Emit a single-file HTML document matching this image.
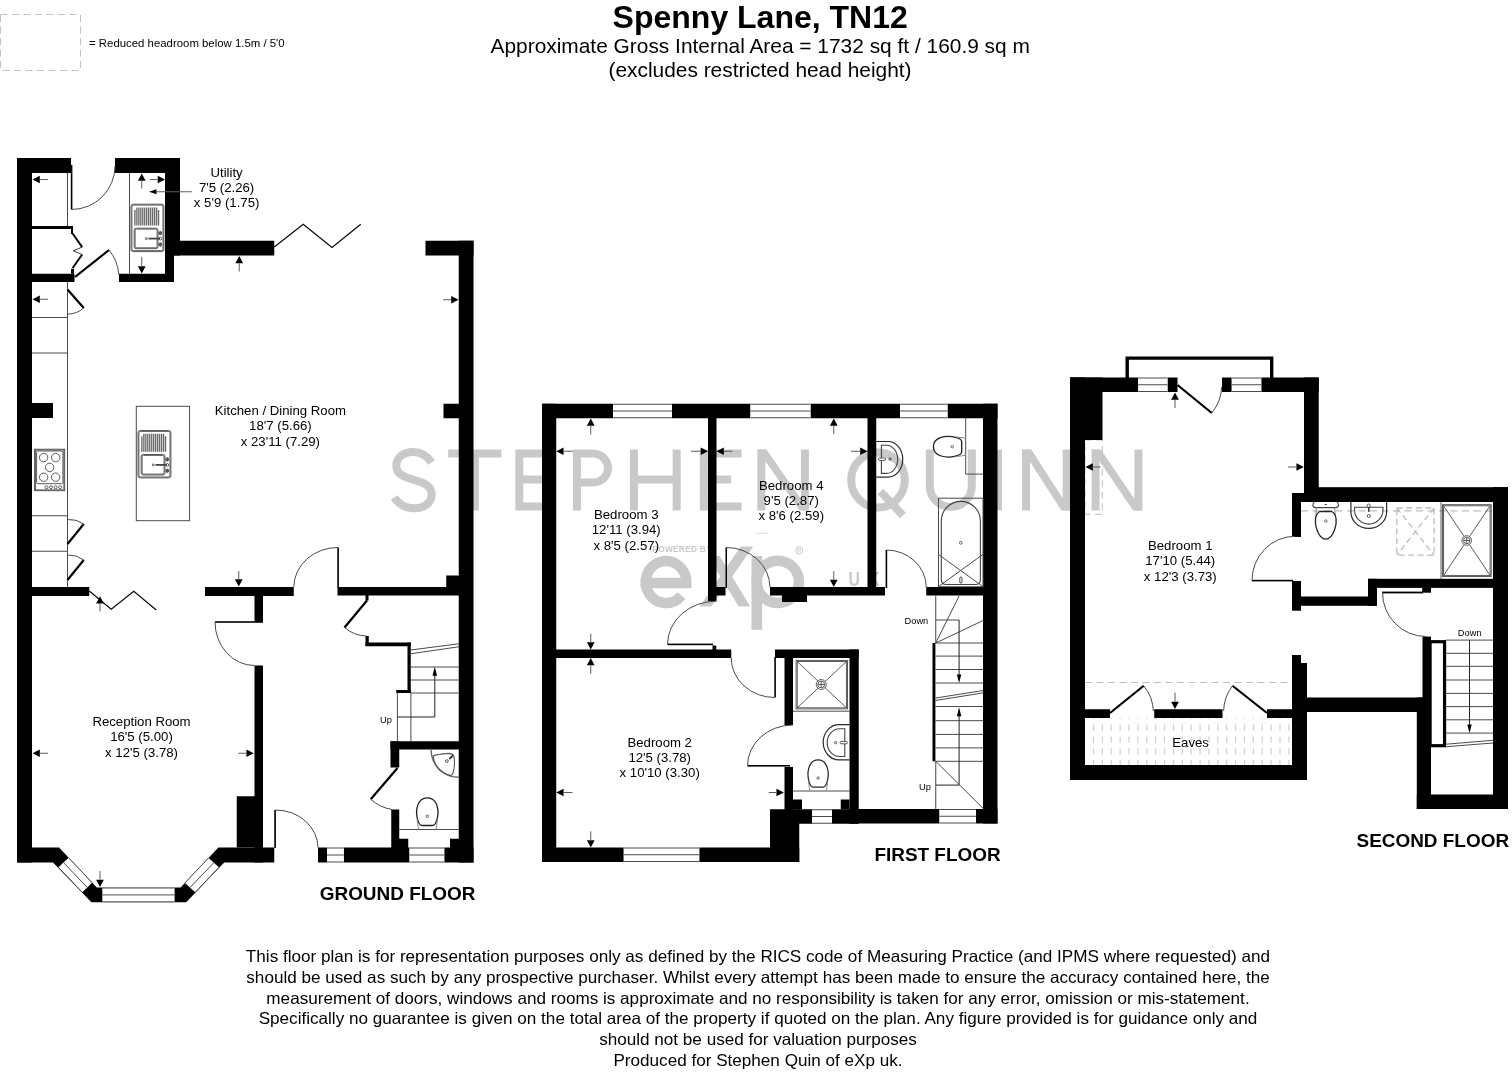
<!DOCTYPE html>
<html><head><meta charset="utf-8"><title>Spenny Lane, TN12 - Floor plan</title>
<style>
html,body{margin:0;padding:0;background:#fff;}
body{width:1512px;height:1072px;overflow:hidden;font-family:"Liberation Sans",sans-serif;}
svg{display:block;font-family:"Liberation Sans",sans-serif;filter:grayscale(1);}
</style></head><body>
<svg width="1512" height="1072" viewBox="0 0 1512 1072">
<rect width="1512" height="1072" fill="#fff"/>

<g stroke="#c9c9c9" stroke-width="8" fill="none" stroke-linecap="butt" stroke-linejoin="miter">
<path d="M431.5 462.5 C427 455.5 420.5 452 413 452 C403 452 396.3 458 396.3 465.5 C396.3 474 403.5 477 414 479.8 C425 482.8 431.7 486.5 431.7 494.5 C431.7 502.5 424.5 508.3 414.5 508.3 C405.5 508.3 398.5 503.8 394.3 497.3"/>
<path d="M448.2 453.5 H501.4 M474.8 449.5 V510.5"/>
<path d="M519.3 449.5 V510.5 M515.3 453.5 H554 M519.3 479.5 H549 M515.3 506.5 H554.5"/>
<path d="M576.9 510.5 V449.5 M572.9 453.5 H594 A15.3 14.6 0 0 1 594 482.6 H576.9"/>
<path d="M633.9 449.5 V510.5 M676.7 449.5 V510.5 M633.9 479.5 H676.7"/>
<path d="M703.8 449.5 V510.5 M700 453.5 H741.6 M703.8 479.5 H731 M700 506.5 H741.6"/>
<path d="M761.3 510.5 V449.5 M804.9 510.5 V449.5"/>
</g>
<polygon points="757.3,449.5 766.5,449.5 808.9,510.5 799.7,510.5" fill="#c9c9c9"/>
<g stroke="#c9c9c9" stroke-width="8" fill="none">
<ellipse cx="878" cy="480" rx="26.8" ry="27.5"/>
<path d="M880.5 491.5 L903 515.5"/>
<path d="M929.8 449.5 V486 A21 21 0 0 0 971.8 486 V449.5"/>
<path d="M998 449.5 V510.5"/>
<path d="M1026 510.5 V449.5 M1066.7 510.5 V449.5 M1095.6 510.5 V449.5 M1138.4 510.5 V449.5"/>
</g>
<polygon points="1022.1,449.5 1031.3,449.5 1070.6,510.5 1061.4,510.5" fill="#c9c9c9"/>
<polygon points="1091.6,449.5 1100.8,449.5 1142.3,510.5 1133.1,510.5" fill="#c9c9c9"/>
<path d="M646 583 H686.3 A20.3 21 0 1 0 681.5 595.6" stroke="#c9c9c9" stroke-width="10.5" fill="none"/>
<polygon points="699.6,606.4 711.3,606.4 753.2,546.6 740.7,546.6" fill="#c9c9c9"/>
<polygon points="738.6,606.4 750.2,606.4 719.6,556 707.8,556" fill="#c9c9c9"/>
<path d="M756.8 556 V629.8" stroke="#c9c9c9" stroke-width="10.7" fill="none"/>
<ellipse cx="777.8" cy="581.8" rx="21.1" ry="21.1" stroke="#c9c9c9" stroke-width="10.5" fill="none"/>
<g fill="#c9c9c9">
<text x="652.3" y="552.1" font-size="8.3" letter-spacing="0.3" font-weight="bold">POWERED BY</text>
<text transform="translate(848.4,585.9) scale(0.8,1)" font-size="19.8" font-weight="bold">U</text>
<text transform="translate(868.6,585.9) scale(0.8,1)" font-size="19.8" font-weight="bold">K</text>
</g>
<circle cx="799.3" cy="550.2" r="3.6" stroke="#c9c9c9" stroke-width="1" fill="none"/>
<text x="799.3" y="552.2" font-size="5.5" text-anchor="middle" fill="#c9c9c9" font-weight="bold">R</text>
<line x1="756" y1="533.3" x2="768" y2="533.3" stroke="#ddd" stroke-width="1"/>
<rect x="0.5" y="14.5" width="80" height="56" fill="none" stroke="#c2c2c2" stroke-width="1" stroke-dasharray="7 4.5"/>
<text x="89.00" y="46.50" font-size="11.4" text-anchor="start" font-weight="normal" fill="#000" >= Reduced headroom below 1.5m / 5'0</text>
<text x="760.20" y="27.60" font-size="32" text-anchor="middle" font-weight="bold" fill="#000" >Spenny Lane, TN12</text>
<text x="760.20" y="53.00" font-size="20.9" text-anchor="middle" font-weight="normal" fill="#000" >Approximate Gross Internal Area = 1732 sq ft / 160.9 sq m</text>
<text x="760.00" y="76.80" font-size="20.9" text-anchor="middle" font-weight="normal" fill="#000" >(excludes restricted head height)</text>
<line x1="67.50" y1="173.00" x2="67.50" y2="226.00" stroke="#4a4a4a" stroke-width="1" />
<line x1="67.50" y1="282.00" x2="67.50" y2="587.00" stroke="#4a4a4a" stroke-width="1" />
<line x1="32.00" y1="317.50" x2="67.50" y2="317.50" stroke="#4a4a4a" stroke-width="1" />
<line x1="32.00" y1="353.00" x2="67.50" y2="353.00" stroke="#4a4a4a" stroke-width="1" />
<line x1="32.00" y1="515.75" x2="67.50" y2="515.75" stroke="#4a4a4a" stroke-width="1" />
<line x1="32.00" y1="551.25" x2="67.50" y2="551.25" stroke="#4a4a4a" stroke-width="1" />
<line x1="129.50" y1="173.00" x2="129.50" y2="273.75" stroke="#4a4a4a" stroke-width="1" />
<rect x="136.3" y="406.3" width="53.3" height="114.4" fill="none" stroke="#4a4a4a" stroke-width="1"/>
<rect x="17.00" y="158.00" width="15.00" height="704.50" fill="#000"/>
<rect x="17.00" y="158.00" width="54.00" height="15.00" fill="#000"/>
<rect x="115.00" y="158.00" width="65.00" height="15.00" fill="#000"/>
<rect x="165.00" y="158.00" width="15.00" height="97.50" fill="#000"/>
<rect x="165.00" y="240.75" width="109.25" height="14.75" fill="#000"/>
<rect x="165.00" y="255.00" width="9.00" height="27.00" fill="#000"/>
<rect x="119.00" y="273.75" width="55.00" height="8.25" fill="#000"/>
<rect x="32.00" y="273.75" width="42.50" height="8.25" fill="#000"/>
<rect x="32.00" y="226.00" width="41.00" height="3.00" fill="#000"/>
<rect x="71.00" y="229.00" width="2.00" height="5.00" fill="#000"/>
<rect x="71.00" y="268.75" width="3.00" height="5.00" fill="#000"/>
<rect x="32.00" y="403.00" width="21.00" height="15.00" fill="#000"/>
<rect x="425.50" y="240.75" width="48.00" height="14.75" fill="#000"/>
<rect x="458.75" y="240.75" width="14.75" height="621.75" fill="#000"/>
<rect x="443.50" y="403.75" width="15.50" height="14.50" fill="#000"/>
<rect x="32.00" y="587.00" width="57.25" height="9.00" fill="#000"/>
<rect x="205.00" y="587.00" width="88.75" height="9.00" fill="#000"/>
<rect x="254.50" y="596.00" width="8.50" height="26.00" fill="#000"/>
<rect x="254.50" y="665.50" width="8.50" height="197.00" fill="#000"/>
<rect x="236.75" y="796.25" width="18.25" height="51.25" fill="#000"/>
<rect x="337.50" y="587.00" width="121.50" height="8.50" fill="#000"/>
<rect x="446.25" y="575.50" width="12.75" height="11.50" fill="#000"/>
<rect x="365.50" y="595.00" width="3.00" height="5.50" fill="#000"/>
<rect x="365.50" y="636.00" width="3.25" height="10.00" fill="#000"/>
<rect x="365.50" y="642.50" width="45.25" height="3.75" fill="#000"/>
<rect x="407.50" y="642.50" width="3.25" height="50.50" fill="#000"/>
<rect x="396.25" y="690.00" width="14.50" height="3.00" fill="#000"/>
<rect x="390.50" y="741.25" width="68.50" height="8.25" fill="#000"/>
<rect x="390.50" y="741.25" width="8.75" height="26.25" fill="#000"/>
<rect x="391.25" y="809.50" width="8.00" height="38.50" fill="#000"/>
<rect x="399.00" y="838.75" width="9.25" height="9.25" fill="#000"/>
<rect x="450.00" y="838.75" width="9.00" height="9.25" fill="#000"/>
<polygon points="17.00,847.50 59.00,847.50 96.80,887.50 180.60,887.50 218.40,847.50 274.25,847.50 274.25,862.50 224.20,862.50 186.20,902.30 91.40,902.30 53.00,862.50 17.00,862.50" fill="#000"/>
<rect x="318.00" y="847.50" width="9.00" height="15.00" fill="#000"/>
<rect x="343.75" y="847.50" width="65.75" height="15.00" fill="#000"/>
<rect x="444.25" y="847.50" width="29.25" height="15.00" fill="#000"/>
<rect x="327.00" y="847.50" width="16.75" height="15.00" fill="#fff"/>
<line x1="327.00" y1="848.00" x2="343.75" y2="848.00" stroke="#4a4a4a" stroke-width="1" />
<line x1="327.00" y1="855.00" x2="343.75" y2="855.00" stroke="#4a4a4a" stroke-width="1" />
<line x1="327.00" y1="862.00" x2="343.75" y2="862.00" stroke="#4a4a4a" stroke-width="1" />
<rect x="409.50" y="847.50" width="34.75" height="15.00" fill="#fff"/>
<line x1="409.50" y1="848.00" x2="444.25" y2="848.00" stroke="#4a4a4a" stroke-width="1" />
<line x1="409.50" y1="855.00" x2="444.25" y2="855.00" stroke="#4a4a4a" stroke-width="1" />
<line x1="409.50" y1="862.00" x2="444.25" y2="862.00" stroke="#4a4a4a" stroke-width="1" />
<polygon points="68.60,857.70 58.40,867.30 82.30,892.30 92.10,882.75" fill="#fff"/>
<line x1="68.60" y1="857.70" x2="92.10" y2="882.75" stroke="#4a4a4a" stroke-width="1" />
<line x1="58.40" y1="867.30" x2="82.30" y2="892.30" stroke="#4a4a4a" stroke-width="1" />
<line x1="63.50" y1="862.50" x2="87.20" y2="887.50" stroke="#4a4a4a" stroke-width="1" />
<polygon points="208.50,858.00 219.00,867.30 195.20,892.30 184.90,882.90" fill="#fff"/>
<line x1="208.50" y1="858.00" x2="184.90" y2="882.90" stroke="#4a4a4a" stroke-width="1" />
<line x1="219.00" y1="867.30" x2="195.20" y2="892.30" stroke="#4a4a4a" stroke-width="1" />
<line x1="213.75" y1="862.65" x2="190.05" y2="887.60" stroke="#4a4a4a" stroke-width="1" />
<rect x="102.30" y="887.50" width="72.30" height="14.80" fill="#fff"/>
<line x1="102.30" y1="888.00" x2="174.60" y2="888.00" stroke="#4a4a4a" stroke-width="1" />
<line x1="102.30" y1="894.90" x2="174.60" y2="894.90" stroke="#4a4a4a" stroke-width="1" />
<line x1="102.30" y1="901.80" x2="174.60" y2="901.80" stroke="#4a4a4a" stroke-width="1" />
<rect x="70.80" y="165.00" width="1.60" height="44.50" fill="#000"/>
<path d="M71.6 209.5 A43.5 43.5 0 0 0 115 166" stroke="#4a4a4a" stroke-width="1" fill="none" />
<path d="M72.6 233.5 L82.2 247.1 M82.2 254.5 L72.6 268" stroke="#000" stroke-width="1.9" fill="none" />
<path d="M82.2 247.1 L73.2 250.8 L82.2 254.5" stroke="#222" stroke-width="0.9" fill="none" />
<line x1="75.00" y1="277.00" x2="109.00" y2="250.00" stroke="#000" stroke-width="2.2" />
<path d="M109 250 A43.5 43.5 0 0 1 118.8 274.5" stroke="#4a4a4a" stroke-width="1" fill="none" />
<line x1="67.50" y1="289.50" x2="83.75" y2="308.00" stroke="#000" stroke-width="2.2" />
<path d="M83.75 308 A24.6 24.6 0 0 1 67.5 314.1" stroke="#4a4a4a" stroke-width="1" fill="none" />
<line x1="67.50" y1="544.00" x2="83.75" y2="524.00" stroke="#000" stroke-width="2.2" />
<path d="M67.5 519.5 A25 25 0 0 1 83.75 524" stroke="#4a4a4a" stroke-width="1" fill="none" />
<line x1="67.50" y1="580.00" x2="83.75" y2="560.00" stroke="#000" stroke-width="2.2" />
<path d="M67.5 555 A25 25 0 0 1 83.75 560" stroke="#4a4a4a" stroke-width="1" fill="none" />
<path d="M274.25 247 L303.25 224.25 L332 247.5 L360.75 224.25" stroke="#000" stroke-width="1.1" fill="none" />
<path d="M89.25 591 L111.25 609.25 L133.75 591.25 L156.25 610" stroke="#000" stroke-width="1.1" fill="none" />
<rect x="215.00" y="621.20" width="48.00" height="1.60" fill="#000"/>
<path d="M215 622 A39.5 43.5 0 0 0 254.5 665.5" stroke="#4a4a4a" stroke-width="1" fill="none" />
<rect x="337.30" y="547.50" width="1.60" height="40.50" fill="#000"/>
<path d="M338 547.5 A44 40 0 0 0 293.75 587" stroke="#4a4a4a" stroke-width="1" fill="none" />
<line x1="367.00" y1="600.50" x2="344.50" y2="627.50" stroke="#000" stroke-width="2.2" />
<path d="M344.5 627.5 A35 35 0 0 0 366.5 636" stroke="#4a4a4a" stroke-width="1" fill="none" />
<line x1="397.50" y1="768.00" x2="370.75" y2="799.25" stroke="#000" stroke-width="2.2" />
<path d="M370.75 799.25 A41 41 0 0 0 392 809.5" stroke="#4a4a4a" stroke-width="1" fill="none" />
<rect x="274.25" y="810.00" width="1.65" height="38.00" fill="#000"/>
<path d="M275.5 810 A42.5 38 0 0 1 318 847.5" stroke="#4a4a4a" stroke-width="1" fill="none" />
<line x1="410.75" y1="667.00" x2="459.00" y2="667.00" stroke="#4a4a4a" stroke-width="1" />
<line x1="410.75" y1="680.00" x2="459.00" y2="680.00" stroke="#4a4a4a" stroke-width="1" />
<line x1="410.75" y1="693.00" x2="459.00" y2="693.00" stroke="#4a4a4a" stroke-width="1" />
<line x1="410.75" y1="650.00" x2="459.00" y2="643.75" stroke="#4a4a4a" stroke-width="1" />
<line x1="410.75" y1="653.75" x2="459.00" y2="646.75" stroke="#4a4a4a" stroke-width="1" />
<line x1="397.40" y1="693.00" x2="397.40" y2="741.25" stroke="#4a4a4a" stroke-width="1" />
<line x1="410.90" y1="693.00" x2="410.90" y2="741.25" stroke="#4a4a4a" stroke-width="1" />
<path d="M397.3 717 H434.8 V675" stroke="#222" stroke-width="1" fill="none" />
<polygon points="434.80,666.80 432.50,675.80 437.10,675.80" fill="#000"/>
<text x="380.00" y="722.80" font-size="9.3" text-anchor="start" font-weight="normal" fill="#000" >Up</text>
<line x1="399.25" y1="829.50" x2="459.00" y2="829.50" stroke="#4a4a4a" stroke-width="1" />
<use href="#wc" transform="translate(427.3,797.9)"/>
<path d="M431.1 749.5 A27.7 27.7 0 0 0 459 777.3" stroke="#666" stroke-width="1.4" fill="none" />
<path d="M433.2 755.9 Q436 754.4 448.7 753.4 Q452.6 753.6 453.8 756 Q455.6 765 452.9 773.5 Q452 775.5 450.4 775.6 Q435 772 433.2 755.9 Z" stroke="#555" stroke-width="1.1" fill="none" />
<circle cx="446.9" cy="761.1" r="1.4" fill="none" stroke="#333" stroke-width="0.8"/>
<line x1="449.30" y1="759.00" x2="453.00" y2="755.50" stroke="#333" stroke-width="1.8" />
<defs><g id="sink" fill="none" stroke="#4a4a4a" stroke-width="0.9">
<rect x="0" y="0" width="32.9" height="47.4" rx="2.2"/><rect x="0.9" y="0.9" width="31.1" height="45.6" rx="1.8"/>
<rect x="3.2" y="24" width="23.8" height="20.5" rx="2"/><rect x="4.1" y="24.9" width="22" height="18.7" rx="1.5"/>
<path d="M3.90 5.8 V21.2 M5.87 3.2 V21.2 M7.84 3.2 V21.2 M9.81 3.2 V21.2 M11.78 3.2 V21.2 M13.75 3.2 V21.2 M15.72 3.2 V21.2 M17.69 3.2 V21.2 M19.66 3.2 V21.2 M21.63 3.2 V21.2 M23.60 3.2 V21.2 M25.57 3.2 V21.2 M27.54 5.8 V21.2 " stroke="#6a6a6a" stroke-width="1.35"/>
<circle cx="15.3" cy="34.4" r="1" /><path d="M17.5 34.4 H29" stroke="#444" stroke-width="1.8"/>
<ellipse cx="29.3" cy="28.9" rx="1.4" ry="1.7" fill="#555"/><ellipse cx="29.3" cy="40.3" rx="1.4" ry="1.7" fill="#555"/><ellipse cx="29.3" cy="34.4" rx="1.4" ry="1.4"/>
</g>
<g id="wc" fill="none"><path d="M0 0 C10.2 0 12.2 13 9.7 21.5 C8.7 25.5 7.5 27.6 5.2 27.6 H-5.2 C-7.5 27.6 -8.7 25.5 -9.7 21.5 C-12.2 13 -10.2 0 0 0 Z" stroke="#222" stroke-width="1.3"/><path d="M-10.3 21 L-8.8 31.5 M10.3 21 L8.8 31.5" stroke="#8a8a8a" stroke-width="1"/><circle cx="0" cy="18.4" r="1.25" stroke="#444" stroke-width="0.8"/></g>
</defs>
<use href="#sink" x="131" y="204.2"/>
<use href="#sink" x="138" y="430.5"/>
<g fill="none" stroke="#4a4a4a" stroke-width="0.9">
<rect x="34.6" y="449.2" width="30.1" height="41.5"/><rect x="35.4" y="450" width="28.5" height="39.9"/><rect x="36.6" y="451" width="26.3" height="32.7" rx="1.2"/>
<circle cx="43.6" cy="457.6" r="4.2"/>
<circle cx="55.7" cy="457.6" r="4.2"/>
<circle cx="49.6" cy="467.4" r="4.2"/>
<circle cx="43.6" cy="477.2" r="4.2"/>
<circle cx="55.7" cy="477.2" r="4.2"/>
<circle cx="46.5" cy="487.3" r="1.5"/>
<circle cx="51" cy="487.3" r="1.5"/>
<circle cx="55.6" cy="487.3" r="1.5"/>
<circle cx="60.2" cy="487.3" r="1.5"/>
</g>
<polygon points="32.50,179.50 39.80,175.65 39.80,183.35" fill="#000"/>
<line x1="39.80" y1="179.50" x2="48.00" y2="179.50" stroke="#5c5c5c" stroke-width="1" />
<polygon points="32.50,299.25 39.80,295.40 39.80,303.10" fill="#000"/>
<line x1="39.80" y1="299.25" x2="48.00" y2="299.25" stroke="#5c5c5c" stroke-width="1" />
<polygon points="141.75,173.50 137.90,180.80 145.60,180.80" fill="#000"/>
<line x1="141.75" y1="180.80" x2="141.75" y2="188.50" stroke="#5c5c5c" stroke-width="1" />
<polygon points="165.00,179.50 157.70,175.65 157.70,183.35" fill="#000"/>
<line x1="157.70" y1="179.50" x2="150.00" y2="179.50" stroke="#5c5c5c" stroke-width="1" />
<polygon points="141.75,273.50 137.90,266.20 145.60,266.20" fill="#000"/>
<line x1="141.75" y1="266.20" x2="141.75" y2="257.00" stroke="#5c5c5c" stroke-width="1" />
<polygon points="149.00,191.75 156.50,189.20 156.50,194.30" fill="#000"/>
<line x1="156.50" y1="191.75" x2="192.00" y2="191.75" stroke="#5c5c5c" stroke-width="1" />
<polygon points="239.25,256.00 235.40,263.30 243.10,263.30" fill="#000"/>
<line x1="239.25" y1="263.30" x2="239.25" y2="271.50" stroke="#5c5c5c" stroke-width="1" />
<polygon points="458.50,299.75 451.20,295.90 451.20,303.60" fill="#000"/>
<line x1="451.20" y1="299.75" x2="443.00" y2="299.75" stroke="#5c5c5c" stroke-width="1" />
<polygon points="100.00,596.30 96.15,603.60 103.85,603.60" fill="#000"/>
<line x1="100.00" y1="603.60" x2="100.00" y2="611.30" stroke="#5c5c5c" stroke-width="1" />
<polygon points="238.75,586.50 234.90,579.20 242.60,579.20" fill="#000"/>
<line x1="238.75" y1="579.20" x2="238.75" y2="571.00" stroke="#5c5c5c" stroke-width="1" />
<polygon points="32.50,753.25 39.80,749.40 39.80,757.10" fill="#000"/>
<line x1="39.80" y1="753.25" x2="48.00" y2="753.25" stroke="#5c5c5c" stroke-width="1" />
<polygon points="253.75,753.25 246.45,749.40 246.45,757.10" fill="#000"/>
<line x1="246.45" y1="753.25" x2="238.25" y2="753.25" stroke="#5c5c5c" stroke-width="1" />
<polygon points="100.00,887.00 96.15,879.70 103.85,879.70" fill="#000"/>
<line x1="100.00" y1="879.70" x2="100.00" y2="871.00" stroke="#5c5c5c" stroke-width="1" />
<text x="226.60" y="176.95" font-size="13.2" text-anchor="middle" font-weight="normal" fill="#000" >Utility</text>
<text x="226.60" y="192.05" font-size="13.2" text-anchor="middle" font-weight="normal" fill="#000" >7'5 (2.26)</text>
<text x="226.60" y="207.15" font-size="13.2" text-anchor="middle" font-weight="normal" fill="#000" >x 5'9 (1.75)</text>
<text x="280.40" y="415.15" font-size="13.2" text-anchor="middle" font-weight="normal" fill="#000" >Kitchen / Dining Room</text>
<text x="280.40" y="430.45" font-size="13.2" text-anchor="middle" font-weight="normal" fill="#000" >18'7 (5.66)</text>
<text x="280.40" y="445.75" font-size="13.2" text-anchor="middle" font-weight="normal" fill="#000" >x 23'11 (7.29)</text>
<text x="141.50" y="726.15" font-size="13.2" text-anchor="middle" font-weight="normal" fill="#000" >Reception Room</text>
<text x="141.50" y="741.40" font-size="13.2" text-anchor="middle" font-weight="normal" fill="#000" >16'5 (5.00)</text>
<text x="141.50" y="756.65" font-size="13.2" text-anchor="middle" font-weight="normal" fill="#000" >x 12'5 (3.78)</text>
<text x="397.60" y="899.80" font-size="18.95" text-anchor="middle" font-weight="bold" fill="#000" >GROUND FLOOR</text>
<rect x="542.00" y="403.75" width="14.25" height="458.25" fill="#000"/>
<rect x="542.00" y="403.75" width="71.00" height="14.50" fill="#000"/>
<rect x="672.00" y="403.75" width="78.50" height="14.50" fill="#000"/>
<rect x="810.50" y="403.75" width="89.50" height="14.50" fill="#000"/>
<rect x="947.50" y="403.75" width="50.00" height="14.50" fill="#000"/>
<rect x="613.00" y="403.75" width="59.00" height="14.50" fill="#fff"/>
<line x1="613.00" y1="404.25" x2="672.00" y2="404.25" stroke="#4a4a4a" stroke-width="1" />
<line x1="613.00" y1="411.00" x2="672.00" y2="411.00" stroke="#4a4a4a" stroke-width="1" />
<line x1="613.00" y1="417.75" x2="672.00" y2="417.75" stroke="#4a4a4a" stroke-width="1" />
<rect x="750.50" y="403.75" width="60.00" height="14.50" fill="#fff"/>
<line x1="750.50" y1="404.25" x2="810.50" y2="404.25" stroke="#4a4a4a" stroke-width="1" />
<line x1="750.50" y1="411.00" x2="810.50" y2="411.00" stroke="#4a4a4a" stroke-width="1" />
<line x1="750.50" y1="417.75" x2="810.50" y2="417.75" stroke="#4a4a4a" stroke-width="1" />
<rect x="900.00" y="403.75" width="47.50" height="14.50" fill="#fff"/>
<line x1="900.00" y1="404.25" x2="947.50" y2="404.25" stroke="#4a4a4a" stroke-width="1" />
<line x1="900.00" y1="411.00" x2="947.50" y2="411.00" stroke="#4a4a4a" stroke-width="1" />
<line x1="900.00" y1="417.75" x2="947.50" y2="417.75" stroke="#4a4a4a" stroke-width="1" />
<rect x="983.00" y="403.75" width="14.50" height="419.75" fill="#000"/>
<rect x="708.00" y="418.00" width="8.50" height="183.25" fill="#000"/>
<rect x="716.00" y="587.00" width="9.50" height="8.50" fill="#000"/>
<rect x="770.00" y="587.00" width="115.00" height="8.50" fill="#000"/>
<rect x="782.00" y="595.00" width="25.00" height="7.00" fill="#000"/>
<rect x="867.50" y="418.00" width="8.75" height="169.50" fill="#000"/>
<rect x="926.25" y="587.00" width="57.25" height="8.50" fill="#000"/>
<rect x="556.00" y="649.50" width="175.25" height="8.50" fill="#000"/>
<rect x="712.50" y="645.50" width="3.75" height="4.50" fill="#000"/>
<rect x="775.00" y="649.50" width="83.75" height="8.50" fill="#000"/>
<rect x="784.50" y="657.50" width="8.50" height="67.50" fill="#000"/>
<rect x="784.50" y="767.00" width="8.50" height="43.00" fill="#000"/>
<rect x="849.50" y="649.50" width="9.25" height="174.25" fill="#000"/>
<rect x="542.00" y="847.50" width="81.75" height="14.50" fill="#000"/>
<rect x="699.25" y="847.50" width="100.00" height="14.50" fill="#000"/>
<rect x="623.75" y="847.50" width="75.50" height="14.50" fill="#fff"/>
<line x1="623.75" y1="848.00" x2="699.25" y2="848.00" stroke="#4a4a4a" stroke-width="1" />
<line x1="623.75" y1="854.75" x2="699.25" y2="854.75" stroke="#4a4a4a" stroke-width="1" />
<line x1="623.75" y1="861.50" x2="699.25" y2="861.50" stroke="#4a4a4a" stroke-width="1" />
<rect x="770.00" y="809.25" width="29.25" height="52.75" fill="#000"/>
<rect x="793.00" y="799.50" width="9.00" height="10.00" fill="#000"/>
<rect x="799.00" y="809.25" width="13.00" height="14.50" fill="#000"/>
<rect x="832.00" y="809.25" width="26.75" height="14.50" fill="#000"/>
<rect x="840.75" y="799.50" width="8.75" height="10.00" fill="#000"/>
<rect x="812.00" y="809.25" width="20.00" height="14.50" fill="#fff"/>
<line x1="812.00" y1="809.75" x2="832.00" y2="809.75" stroke="#4a4a4a" stroke-width="1" />
<line x1="812.00" y1="816.50" x2="832.00" y2="816.50" stroke="#4a4a4a" stroke-width="1" />
<line x1="812.00" y1="823.25" x2="832.00" y2="823.25" stroke="#4a4a4a" stroke-width="1" />
<rect x="858.50" y="809.00" width="81.00" height="14.50" fill="#000"/>
<rect x="976.00" y="809.00" width="21.50" height="14.50" fill="#000"/>
<rect x="939.50" y="809.00" width="36.50" height="14.50" fill="#fff"/>
<line x1="939.50" y1="809.50" x2="976.00" y2="809.50" stroke="#4a4a4a" stroke-width="1" />
<line x1="939.50" y1="816.25" x2="976.00" y2="816.25" stroke="#4a4a4a" stroke-width="1" />
<line x1="939.50" y1="823.00" x2="976.00" y2="823.00" stroke="#4a4a4a" stroke-width="1" />
<rect x="932.50" y="643.00" width="2.90" height="118.30" fill="#000"/>
<rect x="725.50" y="547.50" width="1.50" height="40.50" fill="#000"/>
<path d="M726.3 547.5 A43.7 40 0 0 1 770 587.5" stroke="#4a4a4a" stroke-width="1" fill="none" />
<rect x="885.60" y="550.00" width="1.60" height="38.00" fill="#000"/>
<path d="M886.4 550 A40 37.5 0 0 1 926.3 587.5" stroke="#4a4a4a" stroke-width="1" fill="none" />
<rect x="667.50" y="643.60" width="45.50" height="1.60" fill="#000"/>
<path d="M667.5 644.4 A48.7 43.2 0 0 1 716.2 601.2" stroke="#4a4a4a" stroke-width="1" fill="none" />
<rect x="774.30" y="657.00" width="1.60" height="40.50" fill="#000"/>
<path d="M731.25 658 A43.5 39.5 0 0 0 775 697.5" stroke="#4a4a4a" stroke-width="1" fill="none" />
<rect x="747.50" y="765.00" width="42.50" height="1.60" fill="#000"/>
<path d="M747.5 765.8 A45.5 40.8 0 0 1 793 725" stroke="#4a4a4a" stroke-width="1" fill="none" />
<path d="M876.25 441.5 H888 A14.7 17.8 0 0 1 888 477.1 H876.25" stroke="#2a2a2a" stroke-width="1.2" fill="none" />
<path d="M881.4 445.2 H886.5 A11.2 14.1 0 0 1 886.5 473.4 H881.4 Z" stroke="#444" stroke-width="1.1" fill="none" />
<rect x="878.4" y="458" width="7.4" height="2.4" rx="1.2" fill="#fff" stroke="#333" stroke-width="0.8"/><circle cx="890.1" cy="459.1" r="1.2" fill="none" stroke="#333" stroke-width="0.8"/>
<path d="M965.7 418 V474.1 H983" stroke="#4a4a4a" stroke-width="1" fill="none" />
<use href="#wc" transform="translate(933.4,446.7) rotate(-90) scale(0.97,1.025)"/>
<rect x="938.5" y="498.2" width="44.5" height="88.5" fill="none" stroke="#4a4a4a" stroke-width="1"/>
<path d="M941.3 521 A19.55 19.6 0 0 1 980.4 521 V579.5 Q980.4 584.5 975.4 584.5 H946.3 Q941.3 584.5 941.3 579.5 Z" stroke="#444" stroke-width="1.1" fill="none" />
<circle cx="960.8" cy="542.8" r="1.4" fill="none" stroke="#4a4a4a" stroke-width="0.8"/>
<line x1="938.50" y1="554.50" x2="982.80" y2="586.50" stroke="#4a4a4a" stroke-width="1" />
<line x1="982.80" y1="554.50" x2="938.50" y2="586.50" stroke="#4a4a4a" stroke-width="1" />
<rect x="959.8" y="577" width="2.2" height="6.2" rx="1.1" fill="#fff" stroke="#222" stroke-width="0.8"/>
<line x1="935.75" y1="595.50" x2="935.75" y2="643.00" stroke="#4a4a4a" stroke-width="1" />
<line x1="935.75" y1="761.30" x2="935.75" y2="809.00" stroke="#4a4a4a" stroke-width="1" />
<line x1="935.40" y1="643.00" x2="983.00" y2="643.00" stroke="#4a4a4a" stroke-width="1" />
<line x1="935.40" y1="656.10" x2="983.00" y2="656.10" stroke="#4a4a4a" stroke-width="1" />
<line x1="935.40" y1="669.50" x2="983.00" y2="669.50" stroke="#4a4a4a" stroke-width="1" />
<line x1="935.40" y1="683.00" x2="983.00" y2="683.00" stroke="#4a4a4a" stroke-width="1" />
<line x1="935.40" y1="706.50" x2="983.00" y2="706.50" stroke="#4a4a4a" stroke-width="1" />
<line x1="935.40" y1="720.70" x2="983.00" y2="720.70" stroke="#4a4a4a" stroke-width="1" />
<line x1="935.40" y1="734.40" x2="983.00" y2="734.40" stroke="#4a4a4a" stroke-width="1" />
<line x1="935.40" y1="747.90" x2="983.00" y2="747.90" stroke="#4a4a4a" stroke-width="1" />
<line x1="935.40" y1="761.30" x2="983.00" y2="761.30" stroke="#4a4a4a" stroke-width="1" />
<line x1="935.40" y1="698.10" x2="983.00" y2="690.50" stroke="#4a4a4a" stroke-width="1" />
<line x1="935.40" y1="700.50" x2="983.00" y2="692.90" stroke="#4a4a4a" stroke-width="1" />
<line x1="935.75" y1="620.00" x2="959.10" y2="620.00" stroke="#4a4a4a" stroke-width="1" />
<line x1="935.75" y1="643.00" x2="959.10" y2="596.00" stroke="#4a4a4a" stroke-width="1" />
<line x1="935.75" y1="643.00" x2="983.00" y2="620.60" stroke="#4a4a4a" stroke-width="1" />
<line x1="959.10" y1="620.00" x2="959.10" y2="676.00" stroke="#222" stroke-width="1" />
<polygon points="959.10,683.00 956.90,674.50 961.30,674.50" fill="#000"/>
<line x1="935.75" y1="785.10" x2="959.10" y2="785.10" stroke="#222" stroke-width="1" />
<line x1="959.10" y1="785.10" x2="959.10" y2="715.00" stroke="#222" stroke-width="1" />
<polygon points="959.10,707.30 956.90,716.20 961.30,716.20" fill="#000"/>
<line x1="935.75" y1="761.30" x2="983.00" y2="808.20" stroke="#4a4a4a" stroke-width="1" />
<text x="904.50" y="623.90" font-size="9.3" text-anchor="start" font-weight="normal" fill="#000" >Down</text>
<text x="919.10" y="790.20" font-size="9.3" text-anchor="start" font-weight="normal" fill="#000" >Up</text>
<g fill="none" stroke="#4a4a4a" stroke-width="0.9">
<rect x="796.1" y="660.4" width="51.4" height="48.5"/><rect x="797.2" y="661.5" width="49.2" height="46.3"/>
<path d="M797.2 661.5 L846.4 707.8 M846.4 661.5 L797.2 707.8"/>
<circle cx="821.2" cy="684.5" r="5" fill="#fff"/><circle cx="821.2" cy="684.5" r="3.4"/><path d="M817.8 684.5 H824.6 M821.2 681.1 V687.9"/>
</g>
<line x1="793.00" y1="711.20" x2="849.50" y2="711.20" stroke="#4a4a4a" stroke-width="1" />
<line x1="793.00" y1="791.00" x2="849.50" y2="791.00" stroke="#4a4a4a" stroke-width="1" />
<path d="M849.5 724.7 H839 A15.8 17.6 0 0 0 839 759.9 H849.5" stroke="#2a2a2a" stroke-width="1.2" fill="none" />
<path d="M844.8 728.8 H839.5 A12.3 13.85 0 0 0 839.5 756.5 H844.8 Z" stroke="#444" stroke-width="1.1" fill="none" />
<circle cx="835.6" cy="742.6" r="1.2" fill="none" stroke="#333" stroke-width="0.8"/><rect x="840" y="741.4" width="7.4" height="2.4" rx="1.2" fill="#fff" stroke="#333" stroke-width="0.8"/>
<use href="#wc" transform="translate(818.1,759.9) scale(0.945,0.985)"/>
<polygon points="590.75,418.50 586.90,425.80 594.60,425.80" fill="#000"/>
<line x1="590.75" y1="425.80" x2="590.75" y2="434.50" stroke="#5c5c5c" stroke-width="1" />
<polygon points="556.25,451.25 563.55,447.40 563.55,455.10" fill="#000"/>
<line x1="563.55" y1="451.25" x2="572.75" y2="451.25" stroke="#5c5c5c" stroke-width="1" />
<polygon points="708.00,451.25 700.70,447.40 700.70,455.10" fill="#000"/>
<line x1="700.70" y1="451.25" x2="691.00" y2="451.25" stroke="#5c5c5c" stroke-width="1" />
<polygon points="716.50,451.25 723.80,447.40 723.80,455.10" fill="#000"/>
<line x1="723.80" y1="451.25" x2="732.50" y2="451.25" stroke="#5c5c5c" stroke-width="1" />
<polygon points="867.50,451.25 860.20,447.40 860.20,455.10" fill="#000"/>
<line x1="860.20" y1="451.25" x2="851.00" y2="451.25" stroke="#5c5c5c" stroke-width="1" />
<polygon points="833.75,418.50 829.90,425.80 837.60,425.80" fill="#000"/>
<line x1="833.75" y1="425.80" x2="833.75" y2="434.00" stroke="#5c5c5c" stroke-width="1" />
<polygon points="833.75,587.00 829.90,579.70 837.60,579.70" fill="#000"/>
<line x1="833.75" y1="579.70" x2="833.75" y2="571.25" stroke="#5c5c5c" stroke-width="1" />
<polygon points="590.75,649.50 586.90,642.20 594.60,642.20" fill="#000"/>
<line x1="590.75" y1="642.20" x2="590.75" y2="633.75" stroke="#5c5c5c" stroke-width="1" />
<polygon points="590.75,658.00 586.90,665.30 594.60,665.30" fill="#000"/>
<line x1="590.75" y1="665.30" x2="590.75" y2="673.75" stroke="#5c5c5c" stroke-width="1" />
<polygon points="556.25,792.50 563.55,788.65 563.55,796.35" fill="#000"/>
<line x1="563.55" y1="792.50" x2="572.50" y2="792.50" stroke="#5c5c5c" stroke-width="1" />
<polygon points="783.75,792.50 776.45,788.65 776.45,796.35" fill="#000"/>
<line x1="776.45" y1="792.50" x2="768.75" y2="792.50" stroke="#5c5c5c" stroke-width="1" />
<polygon points="590.75,847.50 586.90,840.20 594.60,840.20" fill="#000"/>
<line x1="590.75" y1="840.20" x2="590.75" y2="831.25" stroke="#5c5c5c" stroke-width="1" />
<text x="626.25" y="519.15" font-size="13.2" text-anchor="middle" font-weight="normal" fill="#000" >Bedroom 3</text>
<text x="626.25" y="534.40" font-size="13.2" text-anchor="middle" font-weight="normal" fill="#000" >12'11 (3.94)</text>
<text x="626.25" y="549.65" font-size="13.2" text-anchor="middle" font-weight="normal" fill="#000" >x 8'5 (2.57)</text>
<text x="791.25" y="489.90" font-size="13.2" text-anchor="middle" font-weight="normal" fill="#000" >Bedroom 4</text>
<text x="791.25" y="505.15" font-size="13.2" text-anchor="middle" font-weight="normal" fill="#000" >9'5 (2.87)</text>
<text x="791.25" y="520.40" font-size="13.2" text-anchor="middle" font-weight="normal" fill="#000" >x 8'6 (2.59)</text>
<text x="659.70" y="746.65" font-size="13.2" text-anchor="middle" font-weight="normal" fill="#000" >Bedroom 2</text>
<text x="659.70" y="761.65" font-size="13.2" text-anchor="middle" font-weight="normal" fill="#000" >12'5 (3.78)</text>
<text x="659.70" y="776.65" font-size="13.2" text-anchor="middle" font-weight="normal" fill="#000" >x 10'10 (3.30)</text>
<text x="937.50" y="861.10" font-size="18.95" text-anchor="middle" font-weight="bold" fill="#000" >FIRST FLOOR</text>
<g stroke="#cfcfcf" stroke-width="1.2" stroke-dasharray="6.3 5.55" stroke-dashoffset="5.3"><line x1="1093.50" y1="718" x2="1093.50" y2="765"/><line x1="1102.38" y1="718" x2="1102.38" y2="765"/><line x1="1111.26" y1="718" x2="1111.26" y2="765"/><line x1="1120.14" y1="718" x2="1120.14" y2="765"/><line x1="1129.02" y1="718" x2="1129.02" y2="765"/><line x1="1137.90" y1="718" x2="1137.90" y2="765"/><line x1="1146.78" y1="718" x2="1146.78" y2="765"/><line x1="1155.66" y1="718" x2="1155.66" y2="765"/><line x1="1164.54" y1="718" x2="1164.54" y2="765"/><line x1="1173.42" y1="718" x2="1173.42" y2="765"/><line x1="1182.30" y1="718" x2="1182.30" y2="765"/><line x1="1191.18" y1="718" x2="1191.18" y2="765"/><line x1="1200.06" y1="718" x2="1200.06" y2="765"/><line x1="1208.94" y1="718" x2="1208.94" y2="765"/><line x1="1217.82" y1="718" x2="1217.82" y2="765"/><line x1="1226.70" y1="718" x2="1226.70" y2="765"/><line x1="1235.58" y1="718" x2="1235.58" y2="765"/><line x1="1244.46" y1="718" x2="1244.46" y2="765"/><line x1="1253.34" y1="718" x2="1253.34" y2="765"/><line x1="1262.22" y1="718" x2="1262.22" y2="765"/><line x1="1271.10" y1="718" x2="1271.10" y2="765"/><line x1="1279.98" y1="718" x2="1279.98" y2="765"/><line x1="1288.86" y1="718" x2="1288.86" y2="765"/></g>
<line x1="1085.00" y1="682.50" x2="1292.50" y2="682.50" stroke="#bdbdbd" stroke-width="1" stroke-dasharray="7 4.5"/>
<line x1="1301.00" y1="510.80" x2="1493.00" y2="510.80" stroke="#bdbdbd" stroke-width="1.3" stroke-dasharray="7 4.5"/>
<rect x="1085" y="440" width="17.3" height="74.3" fill="none" stroke="#bdbdbd" stroke-width="1" stroke-dasharray="7 4.5"/>
<g fill="none" stroke="#bdbdbd" stroke-width="1.3" stroke-dasharray="6 3.5"><rect x="1396.8" y="508" width="37.3" height="47.2"/><path d="M1396.8 508 L1434.1 555.2 M1434.1 508 L1396.8 555.2"/></g>
<rect x="1070.00" y="377.50" width="15.00" height="402.50" fill="#000"/>
<rect x="1070.00" y="377.50" width="32.50" height="62.50" fill="#000"/>
<rect x="1070.00" y="377.50" width="68.25" height="14.50" fill="#000"/>
<rect x="1167.50" y="377.50" width="10.00" height="14.50" fill="#000"/>
<rect x="1222.00" y="377.50" width="9.75" height="14.50" fill="#000"/>
<rect x="1261.25" y="377.50" width="57.50" height="14.50" fill="#000"/>
<rect x="1138.25" y="377.50" width="29.25" height="14.50" fill="#fff"/>
<line x1="1138.25" y1="378.00" x2="1167.50" y2="378.00" stroke="#4a4a4a" stroke-width="1" />
<line x1="1138.25" y1="384.75" x2="1167.50" y2="384.75" stroke="#4a4a4a" stroke-width="1" />
<line x1="1138.25" y1="391.50" x2="1167.50" y2="391.50" stroke="#4a4a4a" stroke-width="1" />
<rect x="1231.75" y="377.50" width="29.50" height="14.50" fill="#fff"/>
<line x1="1231.75" y1="378.00" x2="1261.25" y2="378.00" stroke="#4a4a4a" stroke-width="1" />
<line x1="1231.75" y1="384.75" x2="1261.25" y2="384.75" stroke="#4a4a4a" stroke-width="1" />
<line x1="1231.75" y1="391.50" x2="1261.25" y2="391.50" stroke="#4a4a4a" stroke-width="1" />
<path d="M1127.2 378 V358.1 H1271.7 V378" fill="none" stroke="#000" stroke-width="3.4"/>
<rect x="1304.00" y="377.50" width="14.75" height="124.50" fill="#000"/>
<rect x="1304.00" y="487.20" width="204.00" height="14.80" fill="#000"/>
<rect x="1292.00" y="493.00" width="12.50" height="9.00" fill="#000"/>
<rect x="1292.00" y="493.00" width="9.00" height="44.00" fill="#000"/>
<rect x="1493.00" y="487.20" width="15.00" height="321.80" fill="#000"/>
<rect x="1292.00" y="581.00" width="9.00" height="29.70" fill="#000"/>
<rect x="1300.50" y="596.50" width="76.50" height="9.30" fill="#000"/>
<rect x="1368.00" y="578.80" width="9.00" height="27.00" fill="#000"/>
<rect x="1368.00" y="578.80" width="125.50" height="9.10" fill="#000"/>
<rect x="1422.20" y="587.50" width="8.80" height="5.20" fill="#000"/>
<rect x="1292.00" y="663.00" width="15.00" height="117.00" fill="#000"/>
<rect x="1292.00" y="655.00" width="9.00" height="9.00" fill="#000"/>
<rect x="1306.50" y="697.50" width="116.50" height="14.50" fill="#000"/>
<rect x="1416.80" y="697.50" width="14.20" height="111.50" fill="#000"/>
<rect x="1422.50" y="636.60" width="8.50" height="61.40" fill="#000"/>
<rect x="1416.80" y="794.50" width="91.20" height="14.50" fill="#000"/>
<rect x="1070.00" y="765.00" width="237.00" height="15.00" fill="#000"/>
<rect x="1085.00" y="709.25" width="25.00" height="8.75" fill="#000"/>
<rect x="1154.25" y="709.25" width="68.25" height="8.75" fill="#000"/>
<rect x="1267.00" y="709.25" width="25.50" height="8.75" fill="#000"/>
<line x1="1177.50" y1="385.00" x2="1211.75" y2="413.00" stroke="#000" stroke-width="2.2" />
<path d="M1211.75 413 A44.2 44.2 0 0 0 1221.7 387" stroke="#4a4a4a" stroke-width="1" fill="none" />
<line x1="1110.00" y1="713.00" x2="1143.75" y2="685.75" stroke="#000" stroke-width="2.2" />
<path d="M1143.75 685.75 A43.4 43.4 0 0 1 1153.4 711" stroke="#4a4a4a" stroke-width="1" fill="none" />
<line x1="1267.00" y1="713.00" x2="1232.50" y2="685.75" stroke="#000" stroke-width="2.2" />
<path d="M1232.5 685.75 A43.4 43.4 0 0 0 1223.6 711" stroke="#4a4a4a" stroke-width="1" fill="none" />
<rect x="1252.00" y="579.80" width="41.00" height="1.60" fill="#000"/>
<path d="M1252 580.6 A43 44.3 0 0 1 1295 536.3" stroke="#4a4a4a" stroke-width="1" fill="none" />
<rect x="1382.10" y="591.60" width="40.90" height="1.80" fill="#000"/>
<path d="M1382.5 592.5 A43.5 44 0 0 0 1426 636.5" stroke="#4a4a4a" stroke-width="1" fill="none" />
<path d="M1314.6 501.6 C1312 503.5 1312.3 507.6 1315.5 507.6 H1335.8 C1339 507.6 1339.3 503.5 1336.7 501.6" stroke="#444" stroke-width="1.1" fill="none" />
<path d="M1316.2 507.6 L1316 516 M1334.7 507.6 L1335.4 516" stroke="#8a8a8a" stroke-width="1" fill="none" />
<path d="M1319.8 511.5 H1331.7 C1336.5 514 1337.6 522 1334.5 530 C1332.5 535.5 1329.5 539.2 1325.8 539.2 C1322 539.2 1319 535.5 1317 530 C1314 522 1315 514 1319.8 511.5 Z" stroke="#222" stroke-width="1.3" fill="none" />
<ellipse cx="1325.8" cy="504.5" rx="1.2" ry="0.5" fill="#222"/>
<circle cx="1325.8" cy="521.1" r="1.3" fill="none" stroke="#555" stroke-width="0.8"/>
<path d="M1350.9 501.6 V512 A17.85 16.4 0 0 0 1386.6 512 V501.6" stroke="#2a2a2a" stroke-width="1.2" fill="none" />
<path d="M1354.6 507.2 H1383 V510 A14.2 14.1 0 0 1 1354.6 510 Z" stroke="#444" stroke-width="1.1" fill="none" />
<circle cx="1368.8" cy="505.6" r="1.6" fill="#fff" stroke="#333" stroke-width="0.8"/><circle cx="1368.8" cy="516" r="1.5" fill="none" stroke="#333" stroke-width="0.8"/>
<line x1="1368.80" y1="507.40" x2="1368.80" y2="511.80" stroke="#333" stroke-width="1.6" />
<g fill="none" stroke="#4a4a4a" stroke-width="0.9">
<path d="M1441 502 V578.8"/>
<rect x="1442.5" y="504.7" width="48.7" height="71.8"/><rect x="1443.6" y="505.8" width="46.5" height="69.6"/>
<path d="M1443.6 505.8 L1490.1 575.4 M1490.1 505.8 L1443.6 575.4"/>
<circle cx="1466.7" cy="540.5" r="4.8" fill="#fff"/><circle cx="1466.7" cy="540.5" r="3.2"/><path d="M1463.5 540.5 H1469.9 M1466.7 537.3 V543.7"/>
</g>
<rect x="1430.1" y="641.7" width="14.45" height="104" fill="#fff" stroke="#000" stroke-width="3.2"/>
<line x1="1446.10" y1="640.10" x2="1493.00" y2="640.10" stroke="#4a4a4a" stroke-width="1" />
<line x1="1446.10" y1="653.30" x2="1493.00" y2="653.30" stroke="#4a4a4a" stroke-width="1" />
<line x1="1446.10" y1="666.30" x2="1493.00" y2="666.30" stroke="#4a4a4a" stroke-width="1" />
<line x1="1446.10" y1="680.00" x2="1493.00" y2="680.00" stroke="#4a4a4a" stroke-width="1" />
<line x1="1446.10" y1="693.40" x2="1493.00" y2="693.40" stroke="#4a4a4a" stroke-width="1" />
<line x1="1446.10" y1="706.60" x2="1493.00" y2="706.60" stroke="#4a4a4a" stroke-width="1" />
<line x1="1446.10" y1="719.80" x2="1493.00" y2="719.80" stroke="#4a4a4a" stroke-width="1" />
<line x1="1446.10" y1="733.10" x2="1493.00" y2="733.10" stroke="#4a4a4a" stroke-width="1" />
<line x1="1446.10" y1="744.20" x2="1493.00" y2="740.30" stroke="#4a4a4a" stroke-width="1" />
<line x1="1446.10" y1="746.70" x2="1493.00" y2="743.00" stroke="#4a4a4a" stroke-width="1" />
<line x1="1469.50" y1="640.10" x2="1469.50" y2="726.00" stroke="#222" stroke-width="1" />
<polygon points="1469.50,733.20 1467.30,724.50 1471.70,724.50" fill="#000"/>
<text x="1457.80" y="635.60" font-size="9.3" text-anchor="start" font-weight="normal" fill="#000" >Down</text>
<polygon points="1175.00,392.50 1171.15,399.80 1178.85,399.80" fill="#000"/>
<line x1="1175.00" y1="399.80" x2="1175.00" y2="408.00" stroke="#5c5c5c" stroke-width="1" />
<polygon points="1085.50,467.00 1092.80,463.15 1092.80,470.85" fill="#000"/>
<line x1="1092.80" y1="467.00" x2="1100.50" y2="467.00" stroke="#5c5c5c" stroke-width="1" />
<polygon points="1303.75,467.00 1296.45,463.15 1296.45,470.85" fill="#000"/>
<line x1="1296.45" y1="467.00" x2="1288.00" y2="467.00" stroke="#5c5c5c" stroke-width="1" />
<polygon points="1175.00,709.00 1171.15,701.70 1178.85,701.70" fill="#000"/>
<line x1="1175.00" y1="701.70" x2="1175.00" y2="692.50" stroke="#5c5c5c" stroke-width="1" />
<text x="1180.25" y="550.35" font-size="13.2" text-anchor="middle" font-weight="normal" fill="#000" >Bedroom 1</text>
<text x="1180.25" y="565.45" font-size="13.2" text-anchor="middle" font-weight="normal" fill="#000" >17'10 (5.44)</text>
<text x="1180.25" y="580.55" font-size="13.2" text-anchor="middle" font-weight="normal" fill="#000" >x 12'3 (3.73)</text>
<text x="1190.60" y="746.90" font-size="13.2" text-anchor="middle" font-weight="normal" fill="#000" >Eaves</text>
<text x="1432.80" y="846.60" font-size="18.95" text-anchor="middle" font-weight="bold" fill="#000" >SECOND FLOOR</text>
<text x="758.00" y="961.70" font-size="17.12" text-anchor="middle" font-weight="normal" fill="#000" >This floor plan is for representation purposes only as defined by the RICS code of Measuring Practice (and IPMS where requested) and</text>
<text x="758.00" y="982.60" font-size="17.12" text-anchor="middle" font-weight="normal" fill="#000" >should be used as such by any prospective purchaser. Whilst every attempt has been made to ensure the accuracy contained here, the</text>
<text x="758.00" y="1003.50" font-size="17.12" text-anchor="middle" font-weight="normal" fill="#000" >measurement of doors, windows and rooms is approximate and no responsibility is taken for any error, omission or mis-statement.</text>
<text x="758.00" y="1024.40" font-size="17.12" text-anchor="middle" font-weight="normal" fill="#000" >Specifically no guarantee is given on the total area of the property if quoted on the plan. Any figure provided is for guidance only and</text>
<text x="758.00" y="1045.30" font-size="17.12" text-anchor="middle" font-weight="normal" fill="#000" >should not be used for valuation purposes</text>
<text x="758.00" y="1066.20" font-size="17.12" text-anchor="middle" font-weight="normal" fill="#000" >Produced for Stephen Quin of eXp uk.</text>
</svg></body></html>
